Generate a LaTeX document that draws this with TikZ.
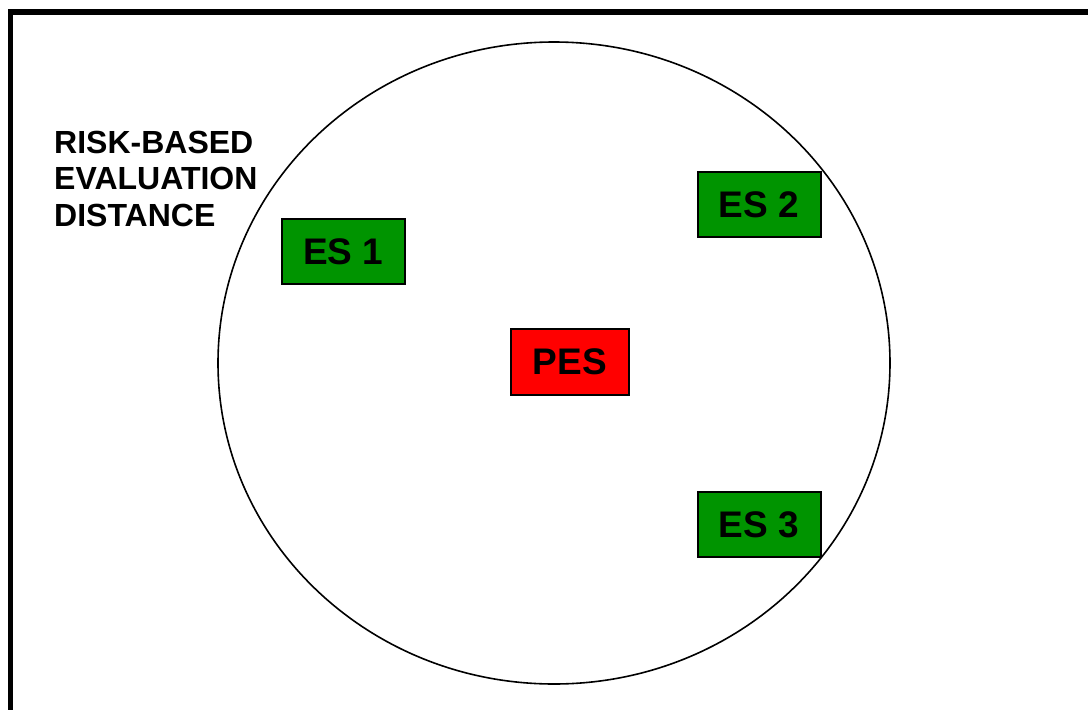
\documentclass[tikz,border=0pt]{standalone}
\usepackage{fontspec}
\setmainfont{Liberation Sans}
\definecolor{esgreen}{RGB}{0,148,0}
\begin{document}
\begin{tikzpicture}[x=1pt,y=-1pt,
  es/.style={rectangle,draw=black,line width=2pt,fill=esgreen,minimum width=123pt,minimum height=65pt,inner sep=0pt,font=\fontsize{37}{40}\selectfont\bfseries},
  pes/.style={es,fill=red,minimum width=118pt,minimum height=66pt},
  lab/.style={font=\fontsize{32}{36.3}\selectfont\bfseries,align=left,inner sep=0pt}]
  \useasboundingbox (0,0) rectangle (1088,710);
  \clip (0,0) rectangle (1088,710);
  % outer frame, runs off the right and bottom
  \draw[line width=5.5pt] (10.5,12) rectangle (1100,730);
  % evaluation distance
  \draw[line width=1.6pt] (554,363) ellipse [x radius=336, y radius=321];
  \node[lab,anchor=north west] (rbed) at (54,131) {RISK-BASED\\EVALUATION\\DISTANCE};
  \node[pes] (pes) at (570,362) {PES};
  \node[es] (es1) at (343.3,251.7) {ES 1};
  \node[es] (es2) at (759,204.5) {ES 2};
  \node[es] (es3) at (759,524.5) {ES 3};
\end{tikzpicture}
\end{document}
